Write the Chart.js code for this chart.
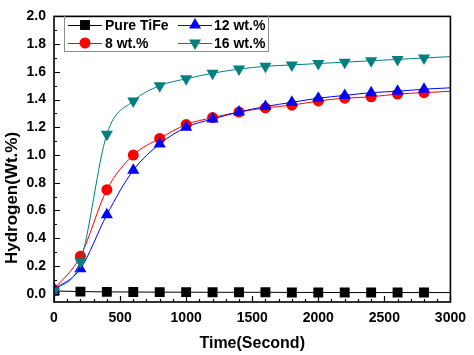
<!DOCTYPE html>
<html>
<head>
<meta charset="utf-8">
<script src="https://cdn.jsdelivr.net/npm/chart.js@4/dist/chart.umd.min.js"></script>
<style>
html,body{margin:0;padding:0;background:#fff;}
#wrap{width:474px;height:355px;position:relative;}
</style>
</head>
<body>
<div id="wrap"><canvas id="c" width="474" height="355"></canvas></div>
<script>
// ---- data ----
const times = [0, 200, 400, 600, 800, 1000, 1200, 1400, 1600, 1800, 2000, 2200, 2400, 2600, 2800, 3000];
const pureTiFe = [0.02, 0.015, 0.013, 0.012, 0.011, 0.011, 0.01, 0.01, 0.01, 0.009, 0.009, 0.008, 0.008, 0.008, 0.008, 0.008];
const wt8  = [0.03, 0.27, 0.75, 1.00, 1.12, 1.22, 1.27, 1.31, 1.34, 1.36, 1.39, 1.41, 1.42, 1.44, 1.45, 1.46];
const wt12 = [0.03, 0.18, 0.57, 0.89, 1.08, 1.20, 1.26, 1.31, 1.35, 1.38, 1.41, 1.43, 1.45, 1.46, 1.475, 1.485];
const wt16 = [0.02, 0.23, 1.15, 1.39, 1.50, 1.55, 1.59, 1.62, 1.64, 1.65, 1.66, 1.67, 1.68, 1.69, 1.70, 1.71];
const seriesNames = ["Pure TiFe", "8 wt.%", "12 wt.%", "16 wt.%"];
const xTickValues = [0, 500, 1000, 1500, 2000, 2500, 3000];
const yTickValues = [0.0, 0.2, 0.4, 0.6, 0.8, 1.0, 1.2, 1.4, 1.6, 1.8, 2.0];
const xTitle = "Time(Second)";
const yTitle = "Hydrogen(Wt.%)";

// ---- styles ----
const colors = ["#000000", "#ff0000", "#0000ff", "#008080"];
const shapes = ["rect", "circle", "triangle", "triangle"];
const rotations = [0, 0, 0, 180];
const radii = [7, 5.5, 7, 7];
const FONT = "'Liberation Sans', Arial, sans-serif";

function radiusArr(r){ return times.map((t,i)=> i === times.length-1 ? 0 : r); }
const seriesData = [pureTiFe, wt8, wt12, wt16];

const datasets = seriesData.map((vals, k) => ({
  label: seriesNames[k],
  data: times.map((t,i)=>({x:t, y:vals[i]})),
  borderColor: colors[k],
  backgroundColor: colors[k],
  borderWidth: 1,
  pointStyle: shapes[k],
  pointRotation: rotations[k],
  pointRadius: radiusArr(radii[k]),
  pointHoverRadius: radiusArr(radii[k]),
  pointBorderWidth: 0,
  pointBackgroundColor: colors[k],
  cubicInterpolationMode: 'monotone',
  clip: 0,
  order: 3 - k
}));

const framePlugin = {
  id: 'frame',
  afterDraw(chart){
    const ctx = chart.ctx;
    const a = chart.chartArea;
    const xs = chart.scales.x, ys = chart.scales.y;
    ctx.save();
    // ticks inward
    ctx.strokeStyle = '#000';
    ctx.lineWidth = 1.2;
    ctx.beginPath();
    for (let v = 0; v <= 3000; v += 100) {
      const px = Math.round(xs.getPixelForValue(v)) + 0.5;
      const len = (v % 500 === 0) ? 6 : 3;
      ctx.moveTo(px, a.bottom);
      ctx.lineTo(px, a.bottom - len);
    }
    for (let i = 0; i <= 20; i++) {
      const v = i * 0.1;
      const py = Math.round(ys.getPixelForValue(v)) + 0.5;
      const len = (i % 2 === 0) ? 6 : 3;
      ctx.moveTo(a.left, py);
      ctx.lineTo(a.left + len, py);
    }
    ctx.stroke();
    // frame
    ctx.lineWidth = 1.6;
    ctx.strokeRect(a.left, a.top, a.right - a.left, a.bottom - a.top);

    // axis titles
    ctx.fillStyle = '#000';
    ctx.font = "bold 16px " + FONT;
    ctx.textAlign = 'center';
    ctx.textBaseline = 'alphabetic';
    ctx.fillText(xTitle, (a.left + a.right) / 2, 348);
    ctx.save();
    ctx.translate(17, 198);
    ctx.rotate(-Math.PI / 2);
    ctx.font = "bold 17px " + FONT;
    ctx.fillText(yTitle, 0, 0);
    ctx.restore();

    // legend
    ctx.lineWidth = 1;
    ctx.strokeStyle = '#8c8c8c';
    ctx.strokeRect(64.5, 15.5, 204, 36);
    const cols = [[68, 102, 85, 105], [178, 212, 195, 214]];
    const rows = [25, 43];
    const order = [[0, 2], [1, 3]]; // [row][col]
    ctx.font = "bold 14px " + FONT;
    ctx.textAlign = 'left';
    ctx.textBaseline = 'middle';
    for (let r = 0; r < 2; r++) {
      for (let c = 0; c < 2; c++) {
        const k = order[r][c];
        const [x0, x1, mx, tx] = cols[c];
        const y = rows[r];
        ctx.strokeStyle = colors[k];
        ctx.lineWidth = 1;
        ctx.beginPath();
        ctx.moveTo(x0, y + 0.5);
        ctx.lineTo(x1, y + 0.5);
        ctx.stroke();
        ctx.fillStyle = colors[k];
        Chart.helpers.drawPoint(ctx, {pointStyle: shapes[k], rotation: rotations[k], radius: radii[k], borderWidth: 0}, mx, y);
        ctx.fillStyle = '#000';
        ctx.fillText(seriesNames[k], tx, y + 1);
      }
    }
    ctx.restore();
  }
};

new Chart(document.getElementById('c'), {
  type: 'line',
  data: { datasets },
  options: {
    responsive: false,
    animation: false,
    devicePixelRatio: 1,
    layout: { padding: { left: 0, top: 9, right: 21, bottom: 0 } },
    plugins: { legend: { display: false }, tooltip: { enabled: false } },
    scales: {
      x: {
        type: 'linear',
        min: 0, max: 3000,
        grid: { display: false, drawTicks: false },
        border: { display: false },
        afterFit(s){ s.height = 53; },
        afterBuildTicks(s){ s.ticks = xTickValues.map(v => ({value: v})); },
        ticks: {
          padding: 8,
          color: '#000',
          font: { family: FONT, size: 14, weight: 'bold' },
          maxRotation: 0,
          callback: v => String(v)
        }
      },
      y: {
        type: 'linear',
        min: -0.06, max: 2.0,
        grid: { display: false, drawTicks: false },
        border: { display: false },
        afterFit(s){ s.width = 54; },
        afterBuildTicks(s){ s.ticks = yTickValues.map(v => ({value: v})); },
        ticks: {
          padding: 8,
          color: '#000',
          font: { family: FONT, size: 14, weight: 'bold' },
          callback: v => Number(v).toFixed(1)
        }
      }
    }
  },
  plugins: [framePlugin]
});
</script>
</body>
</html>
